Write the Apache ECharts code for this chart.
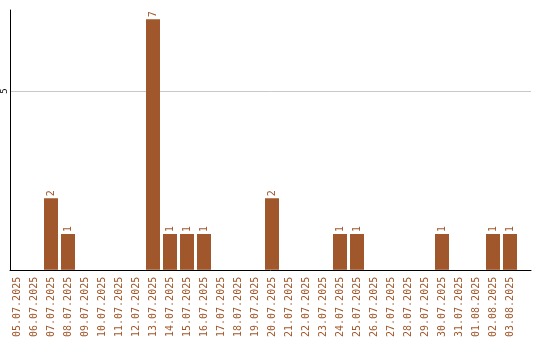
<!DOCTYPE html>
<html>
<head>
<meta charset="utf-8">
<script src="https://cdn.jsdelivr.net/npm/echarts@6/dist/echarts.min.js"></script>
<style>
  html, body { margin: 0; padding: 0; background: #fff; }
  #chart { width: 540px; height: 340px; }
</style>
</head>
<body>
<div id="chart"></div>
<script>
// Daily counts, 05.07.2025 – 03.08.2025
const dates = [
  '05.07.2025', '06.07.2025', '07.07.2025', '08.07.2025', '09.07.2025',
  '10.07.2025', '11.07.2025', '12.07.2025', '13.07.2025', '14.07.2025',
  '15.07.2025', '16.07.2025', '17.07.2025', '18.07.2025', '19.07.2025',
  '20.07.2025', '21.07.2025', '22.07.2025', '23.07.2025', '24.07.2025',
  '25.07.2025', '26.07.2025', '27.07.2025', '28.07.2025', '29.07.2025',
  '30.07.2025', '31.07.2025', '01.08.2025', '02.08.2025', '03.08.2025'
];
const counts = [
  0, 0, 2, 1, 0,
  0, 0, 0, 7, 1,
  1, 1, 0, 0, 0,
  2, 0, 0, 0, 1,
  1, 0, 0, 0, 0,
  1, 0, 0, 1, 1
];

const barColor = '#a0572b';
const textColor = '#a0572b';
const yMax = 7.26;

const chart = echarts.init(document.getElementById('chart'), null, { renderer: 'canvas' });
chart.setOption({
  animation: false,
  grid: [
    // frame: axis lines and the grid line at 5
    { left: 10, right: 9, top: 10, bottom: 70, containLabel: false },
    // bar band area: 30 days, 17px each
    { left: 8.5, width: 510, top: 10, bottom: 70, containLabel: false }
  ],
  xAxis: [
    {
      gridIndex: 0,
      type: 'value',
      min: 0,
      max: 1,
      axisLine: { show: true, onZero: false, lineStyle: { color: '#000', width: 1 } },
      axisTick: { show: false },
      axisLabel: { show: false },
      splitLine: { show: false }
    },
    {
      gridIndex: 1,
      type: 'category',
      data: dates,
      axisLine: { show: false },
      axisTick: { show: false },
      axisLabel: {
        rotate: 90,
        interval: 0,
        color: textColor,
        fontFamily: 'DejaVu Sans Mono',
        fontSize: 10,
        margin: 7
      }
    }
  ],
  yAxis: [
    {
      gridIndex: 0,
      type: 'value',
      min: 0,
      max: yMax,
      interval: 5,
      axisLine: { show: true, lineStyle: { color: '#000', width: 1 } },
      axisTick: { show: false },
      axisLabel: {
        showMinLabel: false,
        showMaxLabel: false,
        rotate: 90,
        color: '#000',
        fontFamily: 'DejaVu Sans Mono',
        fontSize: 9,
        margin: 1
      },
      splitLine: {
        show: true,
        showMinLine: false,
        showMaxLine: false,
        lineStyle: { color: '#c8c8c8', width: 1 }
      }
    },
    {
      gridIndex: 1,
      type: 'value',
      min: 0,
      max: yMax,
      show: false,
      splitLine: { show: false }
    }
  ],
  series: [{
    type: 'bar',
    xAxisIndex: 1,
    yAxisIndex: 1,
    data: counts,
    barWidth: 14,
    itemStyle: { color: barColor },
    label: {
      show: true,
      position: 'top',
      rotate: 90,
      align: 'left',
      verticalAlign: 'middle',
      distance: 2,
      color: textColor,
      fontFamily: 'DejaVu Sans Mono',
      fontSize: 10,
      formatter: p => (p.value > 0 ? String(p.value) : '')
    }
  }]
});
</script>
</body>
</html>
